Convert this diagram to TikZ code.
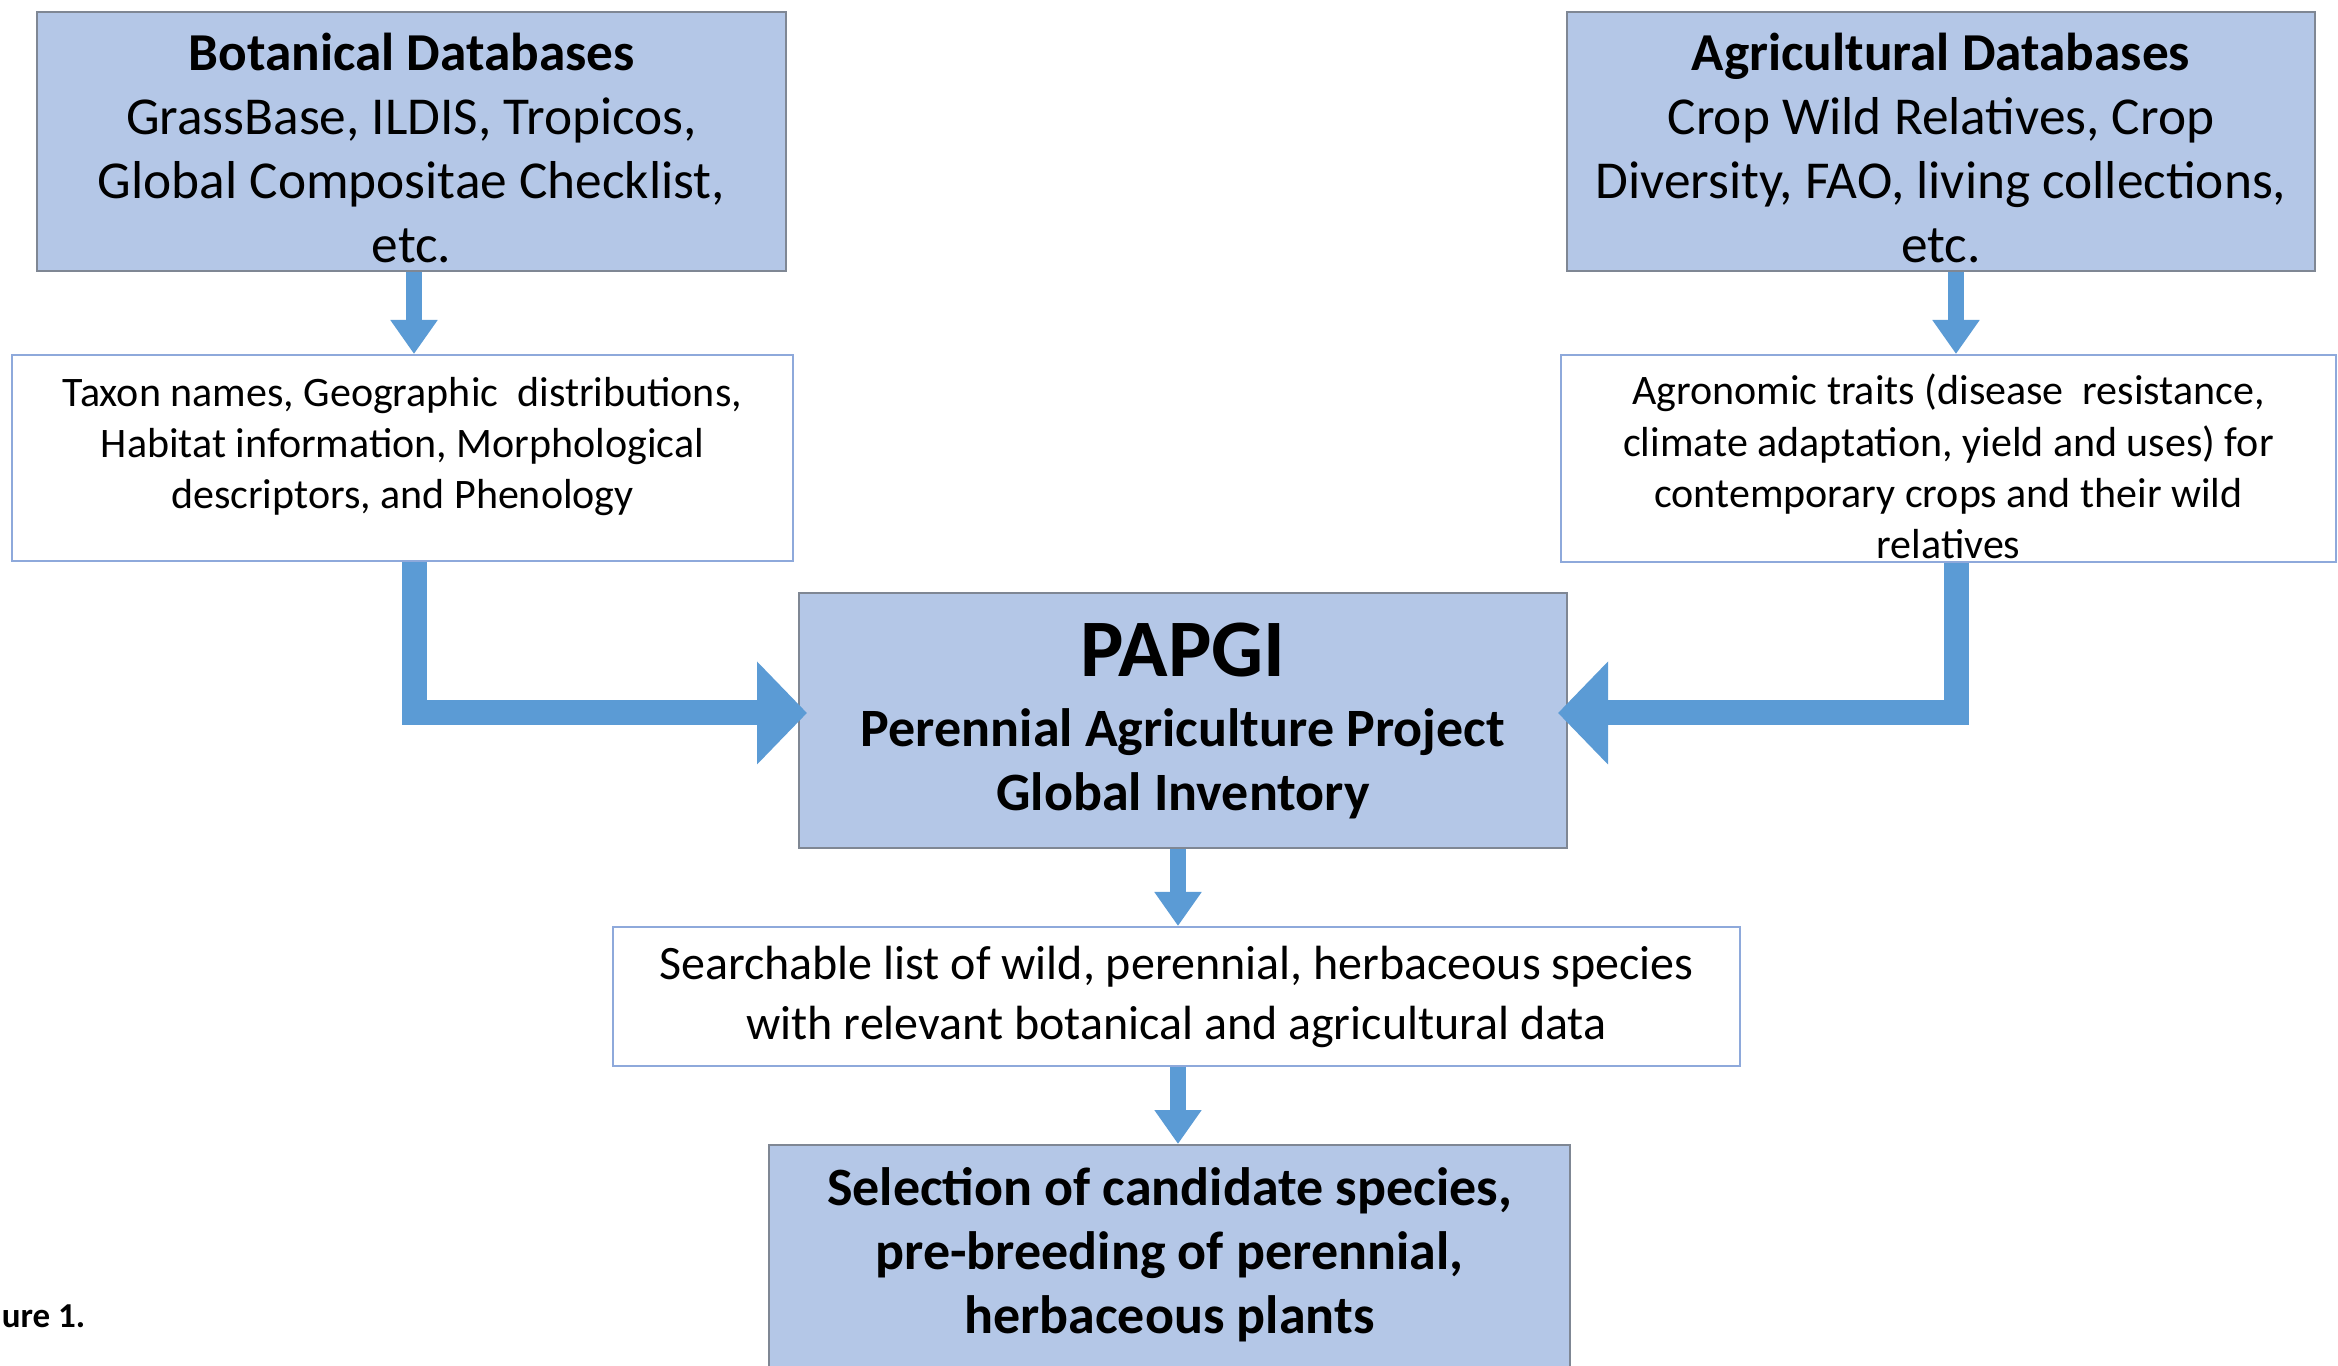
\documentclass[tikz,border=0pt]{standalone}
\usepackage{fontspec}
\setmainfont{Carlito}
\usetikzlibrary{arrows.meta,calc}
\definecolor{boxfill}{HTML}{B4C7E7}
\definecolor{boxdraw}{HTML}{7F8794}
\definecolor{txtdraw}{HTML}{8EA9DB}
\definecolor{arrowc}{HTML}{5B9BD5}
\begin{document}
\begin{tikzpicture}[x=0.3pt,y=-0.3pt,
  bluebox/.style={draw=boxdraw, fill=boxfill, line width=0.6pt, inner sep=0pt, align=center},
  whitebox/.style={draw=txtdraw, fill=white, line width=0.6pt, inner sep=0pt, align=center},
  bigfont/.style={font=\fontsize{16}{19.2}\selectfont},
  smallfont/.style={font=\fontsize{12.6}{15.4}\selectfont},
  smallarrow/.style={draw=arrowc, line width=4.8pt, -{Triangle[width=13.5pt,length=10.2pt]}},
  bigarrow/.style={draw=arrowc, line width=7.5pt, line join=miter, -{Triangle[width=30pt,length=15pt]}}]
\clip (0,0) rectangle (2338,1366);
\fill[white] (0,0) rectangle (2338,1366);

\coordinate (lx) at (414,713);
\coordinate (rx) at (1956,713);
\coordinate (mx) at (1178,0);

\node[bluebox, bigfont, minimum width=224.7pt, minimum height=77.7pt] (bot) at (411.5,141.5)
  {\rule{0pt}{15pt}\textbf{Botanical Databases}\\GrassBase, ILDIS, Tropicos,\\Global Compositae Checklist,\\etc.};
\node[bluebox, bigfont, minimum width=224.4pt, minimum height=77.7pt] (agr) at (1941,141.5)
  {\rule{0pt}{15pt}\textbf{Agricultural Databases}\\Crop Wild Relatives, Crop\\Diversity, FAO, living collections,\\etc.};
\node[whitebox, smallfont, minimum width=234.3pt, minimum height=61.8pt] (tax) at (402.5,458)
  {Taxon names, Geographic\ \ distributions,\\Habitat information,\ Morphological\\descriptors,\ and Phenology\rule[-9pt]{0pt}{0pt}};
\node[whitebox, smallfont, minimum width=232.5pt, minimum height=62.1pt] (agn) at (1948.5,458.5)
  {\rule{0pt}{14pt}Agronomic traits (disease\ \ resistance,\\climate adaptation,\ yield and uses) for\\contemporary\ crops\ and their wild\\relatives};
\node[bluebox, font=\fontsize{16.2}{19.2}\selectfont\bfseries, minimum width=230.4pt, minimum height=76.5pt] (pap) at (1183,720.5)
  {{\fontsize{24.5}{28}\selectfont PAPGI}\\[1.8pt]Perennial Agriculture Project\\Global Inventory};
\node[whitebox, font=\fontsize{14.4}{18}\selectfont, minimum width=338.1pt, minimum height=41.7pt] (srch) at (1176.5,996.5)
  {Searchable list of wild, perennial, herbaceous species\\with relevant botanical and agricultural data};
\node[bluebox, font=\fontsize{16.2}{19.2}\selectfont\bfseries, minimum width=240.3pt, minimum height=76.5pt] (sel) at (1169.5,1272.5)
  {Selection of candidate species,\\pre-breeding of perennial,\\herbaceous plants\rule[-13pt]{0pt}{0pt}};
\node[font=\fontsize{10.5}{12}\selectfont\bfseries, anchor=base east, inner sep=0pt] (fig) at (86,1327) {ure 1.};

\draw[smallarrow] (bot.south -| lx) -- (tax.north -| lx);
\draw[smallarrow] (agr.south -| rx) -- (agn.north -| rx);
\draw[bigarrow] (tax.south -| lx) -- (lx) -- ($(pap.west |- lx)+(9,0)$);
\draw[bigarrow] (agn.south -| rx) -- (rx) -- ($(pap.east |- rx)+(-10,0)$);
\draw[smallarrow] (pap.south -| mx) -- (srch.north -| mx);
\draw[smallarrow] (srch.south -| mx) -- (sel.north -| mx);
\end{tikzpicture}
\end{document}
